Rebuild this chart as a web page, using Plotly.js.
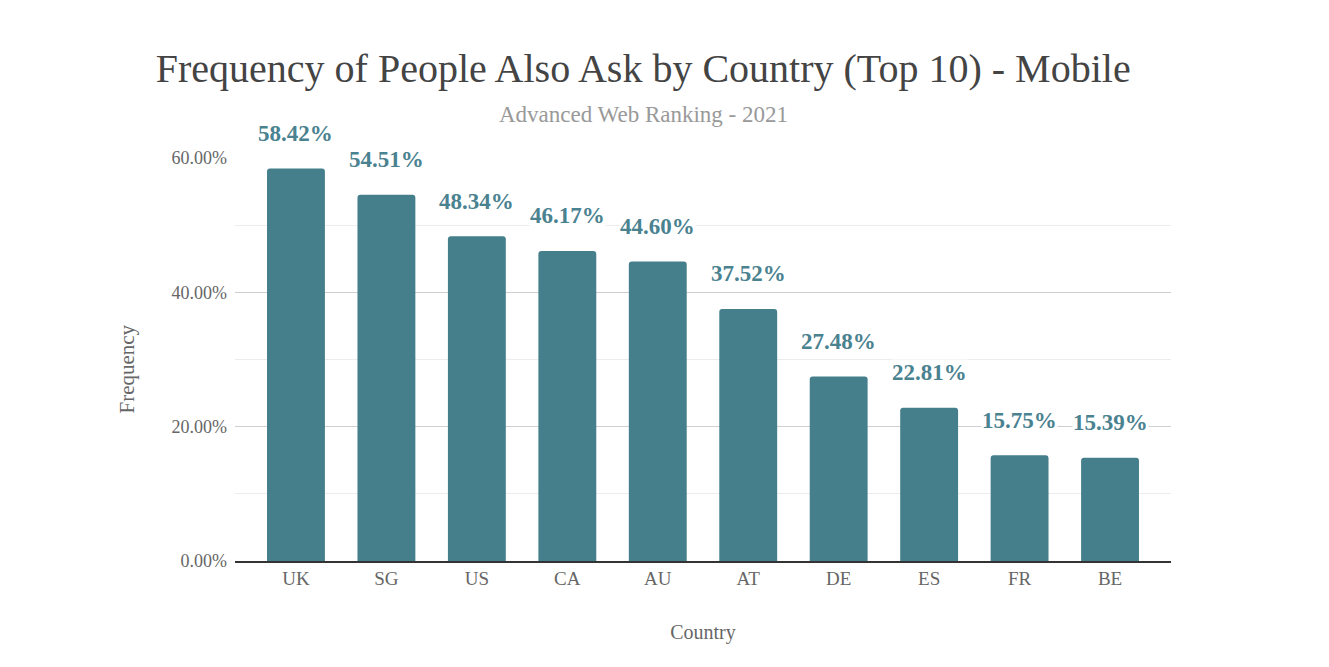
<!DOCTYPE html>
<html>
<head>
<meta charset="utf-8">
<script src="https://cdn.plot.ly/plotly-3.0.1.min.js"></script>
<style>html,body{margin:0;padding:0;background:#fff;}#chart{width:1329px;height:667px;}</style>
</head>
<body>
<div id="chart"></div>
<script>
const countries = ["UK", "SG", "US", "CA", "AU", "AT", "DE", "ES", "FR", "BE"];
const frequency = [58.42, 54.51, 48.34, 46.17, 44.60, 37.52, 27.48, 22.81, 15.75, 15.39];
const yTicks = [0, 20, 40, 60];
const yTickLabels = ["0.00%", "20.00%", "40.00%", "60.00%"];

const font = "Liberation Serif, Times New Roman, serif";
const barColor = "#457f8c";

const trace = {
  type: "bar",
  x: countries,
  y: frequency,
  width: 0.64,
  marker: { color: barColor, cornerradius: 3 },
  hoverinfo: "x+y"
};

const labels = countries.map((c, i) => ({
  x: c, y: frequency[i], xref: "x", yref: "y",
  text: frequency[i].toFixed(2) + "%",
  showarrow: false, yanchor: "middle", yshift: 35,
  bgcolor: "#ffffff", borderpad: 0,
  font: { family: font, size: 23, color: "#4a8290", weight: "bold" }
}));

const layout = {
  width: 1329, height: 667,
  margin: { l: 235, r: 158, t: 158, b: 106 },
  paper_bgcolor: "#fff", plot_bgcolor: "#fff",
  font: { family: font, color: "#666" },
  title: {
    text: "Frequency of People Also Ask by Country (Top 10) - Mobile",
    x: 0.484, xanchor: "center", y: 0.898, yanchor: "middle",
    font: { family: font, size: 40, color: "#444" }
  },
  showlegend: false,
  xaxis: {
    type: "category",
    range: [-0.674, 9.674],
    showline: true, linecolor: "#333", linewidth: 1.5,
    ticks: "", tickfont: { family: font, size: 19, color: "#666" },
    title: { text: "Country", font: { family: font, size: 20, color: "#666" }, standoff: 36 },
    fixedrange: true
  },
  yaxis: {
    range: [0, 60],
    tickvals: yTicks, ticktext: yTickLabels,
    tickfont: { family: font, size: 18, color: "#666" },
    gridcolor: "#cfcfcf", gridwidth: 1,
    zeroline: false,
    ticks: "", ticklabelstandoff: 7,
    minor: { dtick: 10, showgrid: true, gridcolor: "#ececec", ticks: "" },
    fixedrange: true
  },
  annotations: [
    {
      text: "Advanced Web Ranking - 2021", xref: "paper", yref: "paper",
      x: 0.436, y: 1.108, xanchor: "center", yanchor: "middle", showarrow: false,
      font: { family: font, size: 23, color: "#999" }
    },
    {
      text: "Frequency", xref: "paper", yref: "paper",
      x: -0.115, y: 0.476, xanchor: "center", yanchor: "middle", showarrow: false,
      textangle: -90,
      font: { family: font, size: 21, color: "#666" }
    }
  ].concat(labels)
};

Plotly.newPlot("chart", [trace], layout, { displayModeBar: false, staticPlot: true });
</script>
</body>
</html>
